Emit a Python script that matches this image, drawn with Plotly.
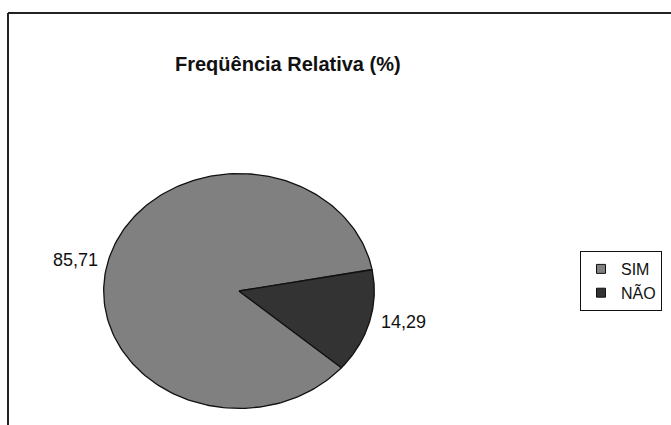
import numpy as np
import plotly.graph_objects as go

# Pie data: relative frequency (%)
categories = ["SIM", "NÃO"]
values = [85.71, 14.29]
value_labels = ["85,71", "14,29"]
colors = ["#808080", "#333333"]

title_text = "Freqüência Relativa (%)"

# Slices are drawn clockwise, the first one starting at this angle
# (degrees, counter-clockwise from the positive x axis).
start_angle = -40.8

fig = go.Figure()

total = sum(values)
angle = start_angle
label_annotations = []
for name, val, lab, col in zip(categories, values, value_labels, colors):
    sweep = 360.0 * val / total
    a0 = angle
    a1 = angle - sweep
    theta = np.radians(np.linspace(a0, a1, 200))
    xs = np.concatenate([[0.0], np.cos(theta), [0.0]])
    ys = np.concatenate([[0.0], np.sin(theta), [0.0]])
    fig.add_trace(go.Scatter(
        x=xs, y=ys, mode="lines", fill="toself",
        fillcolor=col, line=dict(color="#111111", width=1.3),
        hoverinfo="skip", showlegend=False,
    ))
    # value label placed just outside the middle of the slice
    mid = np.radians((a0 + a1) / 2.0)
    cx, cy = np.cos(mid), np.sin(mid)
    label_annotations.append(dict(
        x=cx, y=cy, xref="x", yref="y", text=lab, showarrow=False,
        xanchor="left" if cx >= 0 else "right", yanchor="middle",
        xshift=9 if cx >= 0 else -8,
        font=dict(family="Liberation Sans", size=18, color="#111111"),
    ))
    angle = a1

# legend entries as square swatches
for name, col in zip(categories, colors):
    fig.add_trace(go.Scatter(
        x=[None], y=[None], mode="markers", name=name,
        marker=dict(symbol="square", size=9, color=col,
                    line=dict(color="#111111", width=1)),
    ))

W, H = 671, 425
px0, px1 = 103, 375   # horizontal extent of the pie
py0, py1 = 173, 409   # vertical extent of the pie (from top)

fig.update_layout(
    width=W, height=H,
    margin=dict(l=0, r=0, t=0, b=0),
    paper_bgcolor="white", plot_bgcolor="white",
    xaxis=dict(range=[-1.005, 1.005], domain=[px0 / W, px1 / W],
               visible=False, fixedrange=True),
    yaxis=dict(range=[-1.005, 1.005], domain=[1 - py1 / H, 1 - py0 / H],
               visible=False, fixedrange=True),
    annotations=label_annotations + [dict(
        x=288 / W, y=1 - 64 / H, xref="paper", yref="paper",
        text="<b>" + title_text + "</b>", showarrow=False,
        xanchor="center", yanchor="middle",
        font=dict(family="Liberation Sans", size=20, color="#111111"),
    )],
    legend=dict(
        x=580 / W, y=1 - 281 / H, xanchor="left", yanchor="middle",
        bordercolor="#111111", borderwidth=1, bgcolor="white",
        font=dict(family="Liberation Sans", size=16, color="#111111"),
        itemwidth=30, tracegroupgap=0,
    ),
    shapes=[
        # chart-area frame (top and left edges)
        dict(type="line", xref="paper", yref="paper",
             x0=8 / W, x1=1.0, y0=1 - 13 / H, y1=1 - 13 / H,
             line=dict(color="#222222", width=2)),
        dict(type="line", xref="paper", yref="paper",
             x0=8 / W, x1=8 / W, y0=0.0, y1=1 - 13 / H,
             line=dict(color="#222222", width=2)),
    ],
)

fig.write_html("out.html")
